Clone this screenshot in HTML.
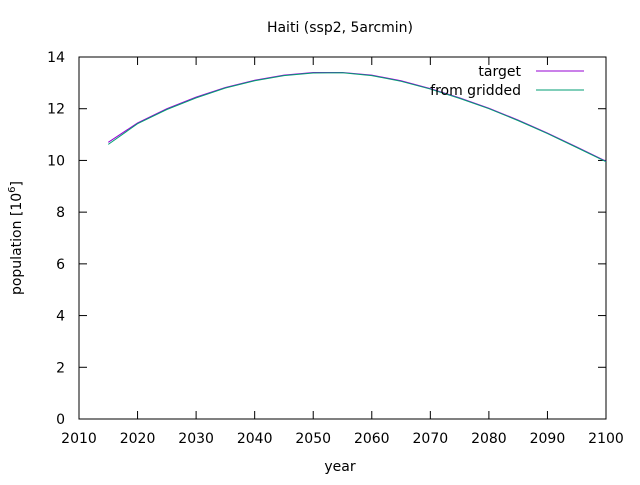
<!DOCTYPE html>
<html><head><meta charset="utf-8"><style>
body{margin:0;background:#fff}
svg{font-family:"DejaVu Sans","Liberation Sans",sans-serif;}
</style></head><body>
<svg id="chart" width="640" height="480" viewBox="0 0 640 480" xmlns="http://www.w3.org/2000/svg">
<rect width="640" height="480" fill="#fff"/>
<text x="340" y="32" font-size="14" text-anchor="middle">Haiti (ssp2, 5arcmin)</text>
<text x="340" y="471" font-size="14" text-anchor="middle">year</text>
<text transform="translate(21,238) rotate(-90)" font-size="14" text-anchor="middle">population [10<tspan dy="-6" font-size="10">6</tspan><tspan dy="6">]</tspan></text>
<g id="axes"></g>
<g id="series"></g>
<g>
<text x="521" y="76" font-size="14" text-anchor="end">target</text>
<line x1="536" y1="71" x2="584" y2="71" stroke="#9400d3" stroke-width="1"/>
<text x="521" y="95" font-size="14" text-anchor="end">from gridded</text>
<line x1="536" y1="90" x2="584" y2="90" stroke="#009e73" stroke-width="1"/>
</g>
</svg>
<script>
const years=[2015,2020,2025,2030,2035,2040,2045,2050,2055,2060,2065,2070,2075,2080,2085,2090,2095,2100];
const target=[10.7,11.45,12.0,12.45,12.82,13.1,13.3,13.4,13.4,13.3,13.08,12.78,12.42,12.02,11.56,11.06,10.52,9.97];
const gridded=[10.62,11.42,11.97,12.42,12.8,13.08,13.28,13.38,13.39,13.28,13.06,12.76,12.4,12.0,11.54,11.04,10.5,9.95];
const xTicks=[2010,2020,2030,2040,2050,2060,2070,2080,2090,2100];
const yTicks=[0,2,4,6,8,10,12,14];
const L=79,R=606,T=57,B=419;
const X=v=>L+(v-2010)/90*(R-L);
const Y=v=>B-(v/14)*(B-T);
const NS="http://www.w3.org/2000/svg";
const axes=document.getElementById('axes');
function mk(tag,attrs,parent){const e=document.createElementNS(NS,tag);for(const k in attrs)e.setAttribute(k,attrs[k]);parent.appendChild(e);return e;}
const frame=mk('rect',{x:L,y:T,width:R-L,height:B-T,fill:'none',stroke:'#000','stroke-width':1},axes);


xTicks.forEach(t=>{
  const x=X(t);
  const l1=mk('line',{x1:x,y1:B,x2:x,y2:B-8,stroke:'#000'},axes);
  
  
  const l2=mk('line',{x1:x,y1:T,x2:x,y2:T+8,stroke:'#000'},axes);
  
  
  const tx=mk('text',{x:x,y:443,'font-size':14,'text-anchor':'middle'},axes);
  tx.textContent=t;
  
  
});
yTicks.forEach(t=>{
  const y=Y(t);
  const l1=mk('line',{x1:L,y1:y,x2:L+8,y2:y,stroke:'#000'},axes);
  
  
  const l2=mk('line',{x1:R,y1:y,x2:R-8,y2:y,stroke:'#000'},axes);
  
  
  const tx=mk('text',{x:65,y:y+5,'font-size':14,'text-anchor':'end'},axes);
  tx.textContent=t;
  
  
});
const ser=document.getElementById('series');
function line(vals,color,name){
  const p=mk('polyline',{points:years.map((yr,i)=>X(yr)+','+Y(vals[i])).join(' '),fill:'none',stroke:color,'stroke-width':1},ser);
  
  
}
line(target,'#9400d3','series-target');
line(gridded,'#009e73','series-from-gridded');
</script>
</body></html>
